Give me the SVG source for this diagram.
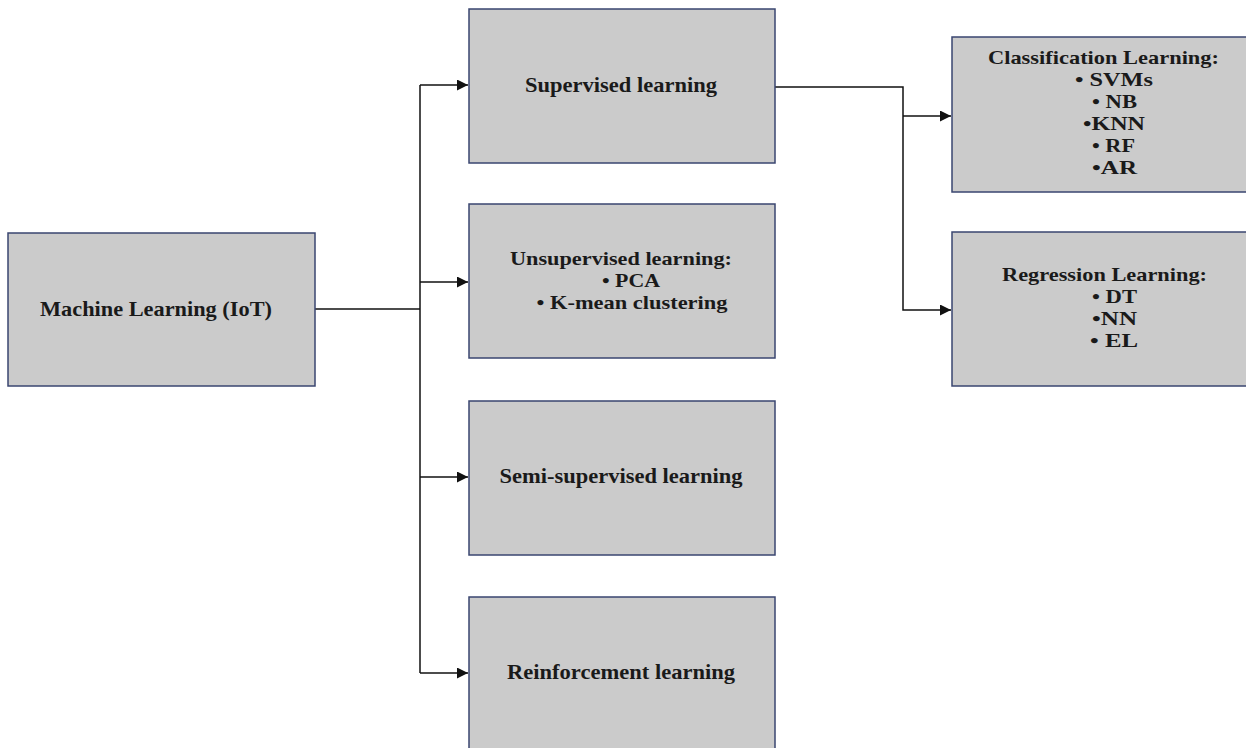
<svg xmlns="http://www.w3.org/2000/svg" width="1246" height="748" viewBox="0 0 1246 748">
<style>
.box{fill:#cbcbcb;stroke:#3a4670;stroke-width:1.5}
.t{font-family:"Liberation Serif","Times New Roman",serif;font-weight:bold;font-size:21px;fill:#1a1a1a;text-anchor:middle}
.s{font-size:19px}
.c{fill:none;stroke:#111;stroke-width:1.5}
</style>
<defs>
<marker id="ah" viewBox="0 0 10 10" refX="10" refY="5" markerWidth="11" markerHeight="11" markerUnits="userSpaceOnUse" orient="auto">
<path d="M0,0 L10,5 L0,10 z" fill="#111"/>
</marker>
</defs>
<rect width="1246" height="748" fill="#fff"/>
<g id="connectors">
<path class="c" d="M315,309 H420"/>
<path class="c" d="M420,85 V673"/>
<path class="c" d="M420,85 H468" marker-end="url(#ah)"/>
<path class="c" d="M420,282 H468" marker-end="url(#ah)"/>
<path class="c" d="M420,477 H468" marker-end="url(#ah)"/>
<path class="c" d="M420,673 H468" marker-end="url(#ah)"/>
<path class="c" d="M775,87 H903 V310 H951" marker-end="url(#ah)"/>
<path class="c" d="M903,116 H951" marker-end="url(#ah)"/>
</g>
<g id="ml">
<rect class="box" x="8" y="233" width="307" height="153"/>
<text class="t" x="156" y="316" textLength="232" lengthAdjust="spacingAndGlyphs">Machine Learning (IoT)</text>
</g>
<g id="supervised">
<rect class="box" x="469" y="9" width="306" height="154"/>
<text class="t" x="621" y="92" textLength="192" lengthAdjust="spacingAndGlyphs">Supervised learning</text>
</g>
<g id="unsupervised">
<rect class="box" x="469" y="204" width="306" height="154"/>
<text class="t s" x="621" y="265" textLength="222" lengthAdjust="spacingAndGlyphs">Unsupervised learning:</text>
<text class="t s" x="631" y="287" textLength="58" lengthAdjust="spacingAndGlyphs">• PCA</text>
<text class="t s" x="632" y="309" textLength="191" lengthAdjust="spacingAndGlyphs">• K-mean clustering</text>
</g>
<g id="semi">
<rect class="box" x="469" y="401" width="306" height="154"/>
<text class="t" x="621" y="483" textLength="243" lengthAdjust="spacingAndGlyphs">Semi-supervised learning</text>
</g>
<g id="reinforcement">
<rect class="box" x="469" y="597" width="306" height="160"/>
<text class="t" x="621" y="679" textLength="228" lengthAdjust="spacingAndGlyphs">Reinforcement learning</text>
</g>
<g id="classification">
<rect class="box" x="952" y="37" width="300" height="155"/>
<text class="t s" x="1103.5" y="64" textLength="231" lengthAdjust="spacingAndGlyphs">Classification Learning:</text>
<text class="t s" x="1114" y="86" textLength="78" lengthAdjust="spacingAndGlyphs">•  SVMs</text>
<text class="t s" x="1114.5" y="108" textLength="45" lengthAdjust="spacingAndGlyphs">• NB</text>
<text class="t s" x="1114" y="130" textLength="62" lengthAdjust="spacingAndGlyphs">•KNN</text>
<text class="t s" x="1113.5" y="152" textLength="43" lengthAdjust="spacingAndGlyphs">• RF</text>
<text class="t s" x="1114.5" y="174" textLength="45" lengthAdjust="spacingAndGlyphs">•AR</text>
</g>
<g id="regression">
<rect class="box" x="952" y="232" width="300" height="154"/>
<text class="t s" x="1104.5" y="281" textLength="205" lengthAdjust="spacingAndGlyphs">Regression Learning:</text>
<text class="t s" x="1114.5" y="303" textLength="45" lengthAdjust="spacingAndGlyphs">• DT</text>
<text class="t s" x="1114.5" y="325" textLength="45" lengthAdjust="spacingAndGlyphs">•NN</text>
<text class="t s" x="1114" y="347" textLength="48" lengthAdjust="spacingAndGlyphs">•  EL</text>
</g>
</svg>
